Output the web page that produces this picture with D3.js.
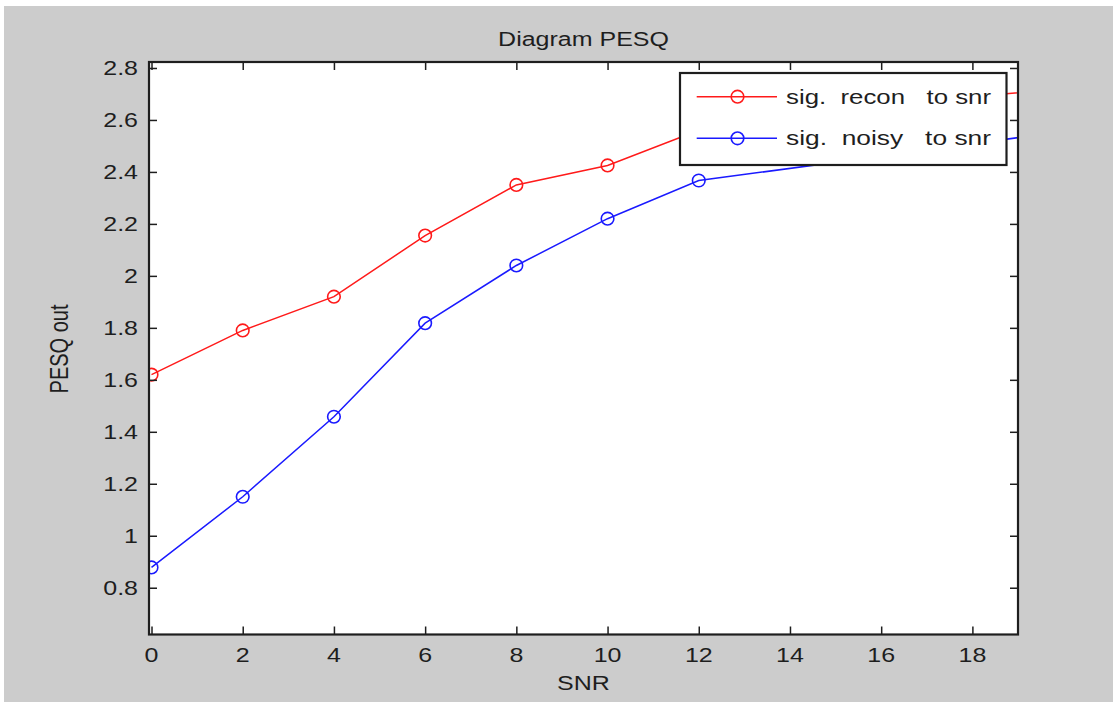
<!DOCTYPE html>
<html>
<head>
<meta charset="utf-8">
<script src="https://cdn.jsdelivr.net/npm/d3@7"></script>
<style>
  html, body { margin: 0; padding: 0; background: #ffffff; }
  svg { display: block; }
  text { font-family: "Liberation Sans", Arial, sans-serif; fill: #1e1e1e; }
</style>
</head>
<body>
<svg id="chart" width="1113" height="702"></svg>
<script>
// ---- data ----
const snr = [0, 2, 4, 6, 8, 10, 12, 16, 20];
const reconPesq = [1.62, 1.79, 1.92, 2.155, 2.35, 2.425, 2.56, 2.66, 2.72];
const noisyPesq = [0.878, 1.15, 1.458, 1.818, 2.04, 2.22, 2.367, 2.46, 2.556];
const xTicks = [0, 2, 4, 6, 8, 10, 12, 14, 16, 18];
const yTicks = [0.8, 1.0, 1.2, 1.4, 1.6, 1.8, 2.0, 2.2, 2.4, 2.6, 2.8];
const yTickLabels = ["0.8", "1", "1.2", "1.4", "1.6", "1.8", "2", "2.2", "2.4", "2.6", "2.8"];
const seriesNames = ["sig.  recon   to snr", "sig.  noisy   to snr"];
const seriesColors = ["#ff1a1a", "#1a1aff"];
const titleText = "Diagram PESQ";
const xLabel = "SNR";
const yLabel = "PESQ out";

// ---- layout ----
const svg = d3.select("#chart");
const L = 149, R = 1018, T = 62, B = 634.5;
const SX = 1.25; // horizontal glyph stretch of the reference
const FS = 20;

svg.append("rect").attr("x", 4).attr("y", 6).attr("width", 1109).attr("height", 696).attr("fill", "#cccccc");
svg.append("rect").attr("x", L).attr("y", T).attr("width", R - L).attr("height", B - T).attr("fill", "#ffffff");

const x = d3.scaleLinear().domain([-0.055, 19]).range([L, R]);
const y = d3.scaleLinear().domain([0.62, 2.823]).range([B, T]);

function stretchedText(g, tx, ty, str, anchor) {
  return g.append("text")
    .attr("transform", `translate(${tx},${ty}) scale(${SX},1)`)
    .attr("text-anchor", anchor)
    .style("font-size", FS + "px")
    .style("white-space", "pre")
    .text(str);
}

// clip
svg.append("clipPath").attr("id", "plotclip")
  .append("rect").attr("x", L).attr("y", T).attr("width", R - L).attr("height", B - T);

// series
const series = [reconPesq, noisyPesq];
const plot = svg.append("g").attr("clip-path", "url(#plotclip)");
series.forEach((vals, i) => {
  const pts = snr.map((s, k) => [s, vals[k]]);
  plot.append("path")
    .attr("d", d3.line().x(d => x(d[0])).y(d => y(d[1]))(pts))
    .attr("fill", "none").attr("stroke", seriesColors[i]).attr("stroke-width", 1.5);
  plot.selectAll(null).data(pts).enter().append("circle")
    .attr("cx", d => x(d[0])).attr("cy", d => y(d[1])).attr("r", 6.3)
    .attr("fill", "none").attr("stroke", seriesColors[i]).attr("stroke-width", 1.6);
});

// axes (ticks inward on all four sides)
const tickLen = 8;
const axisColor = "#1e1e1e";
const axes = svg.append("g");
const xb = axes.append("g").attr("transform", `translate(0,${B})`)
  .call(d3.axisBottom(x).tickValues(xTicks).tickSizeInner(-tickLen).tickSizeOuter(0).tickFormat(""));
const xt = axes.append("g").attr("transform", `translate(0,${T})`)
  .call(d3.axisTop(x).tickValues(xTicks).tickSizeInner(-tickLen).tickSizeOuter(0).tickFormat(""));
const yl = axes.append("g").attr("transform", `translate(${L},0)`)
  .call(d3.axisLeft(y).tickValues(yTicks).tickSizeInner(-tickLen).tickSizeOuter(0).tickFormat(""));
const yr = axes.append("g").attr("transform", `translate(${R},0)`)
  .call(d3.axisRight(y).tickValues(yTicks).tickSizeInner(-tickLen).tickSizeOuter(0).tickFormat(""));
[xb, xt, yl, yr].forEach(g => {
  g.select(".domain").remove();
  g.selectAll(".tick line").attr("stroke", axisColor).attr("stroke-width", 1.5);
});
axes.append("rect").attr("x", L).attr("y", T).attr("width", R - L).attr("height", B - T)
  .attr("fill", "none").attr("stroke", axisColor).attr("stroke-width", 2.2);

// tick labels
const labels = svg.append("g");
xTicks.forEach(v => stretchedText(labels, x(v), 662, String(v), "middle"));
yTicks.forEach((v, i) => stretchedText(labels, 138, y(v) + 7.2, yTickLabels[i], "end"));

// title and axis labels
stretchedText(svg, (L + R) / 2, 46, titleText, "middle");
stretchedText(svg, (L + R) / 2, 690, xLabel, "middle");
svg.append("text")
  .attr("transform", `translate(67.5,349) scale(${SX},1) rotate(-90)`)
  .attr("text-anchor", "middle").style("font-size", FS + "px").text(yLabel);

// legend
const lg = svg.append("g");
lg.append("rect").attr("x", 680).attr("y", 73).attr("width", 326.5).attr("height", 92)
  .attr("fill", "#ffffff").attr("stroke", axisColor).attr("stroke-width", 2.2);
const rowY = [96.7, 138.3];
seriesNames.forEach((name, i) => {
  lg.append("line").attr("x1", 696.7).attr("x2", 777).attr("y1", rowY[i]).attr("y2", rowY[i])
    .attr("stroke", seriesColors[i]).attr("stroke-width", 1.5);
  lg.append("circle").attr("cx", 737.5).attr("cy", rowY[i]).attr("r", 6.3)
    .attr("fill", "none").attr("stroke", seriesColors[i]).attr("stroke-width", 1.6);
  lg.append("text")
    .attr("x", 786).attr("y", rowY[i] + 7)
    .attr("textLength", 205).attr("lengthAdjust", "spacingAndGlyphs")
    .style("font-size", FS + "px").style("white-space", "pre")
    .text(name);
});
</script>
</body>
</html>
